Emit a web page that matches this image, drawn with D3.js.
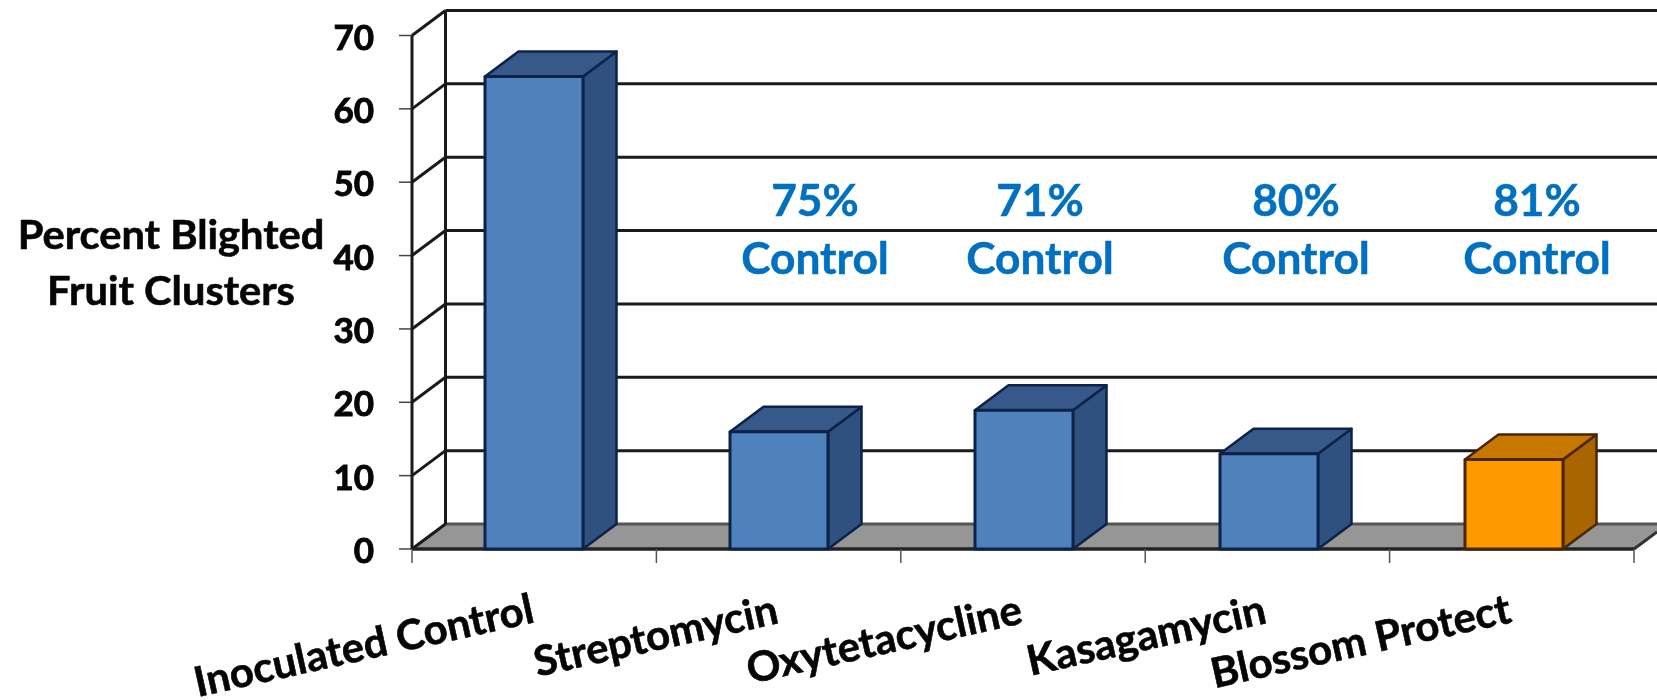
<!DOCTYPE html>
<html><head><meta charset="utf-8">
<script src="https://cdn.jsdelivr.net/npm/d3@7"></script>
<style>html,body{margin:0;background:#fff}svg{display:block;filter:blur(0.5px)}text{font-family:Lato,"Open Sans",sans-serif;font-weight:700}</style>
</head><body><svg id="c" width="1657" height="700"></svg>
<script>
const categories=["Inoculated Control","Streptomycin","Oxytetacycline","Kasagamycin","Blossom Protect"];
const values=[64.4,16,18.9,13,12.2];
const barColors=[["#4f81bd","#36598a","#2f5180"],["#4f81bd","#36598a","#2f5180"],["#4f81bd","#36598a","#2f5180"],["#4f81bd","#36598a","#2f5180"],["#ff9900","#c77800","#a86500"]];
const strokeColors=["#0c2248","#0c2248","#0c2248","#0c2248","#4a2500"];
const yTicks=[0,10,20,30,40,50,60,70];
const controlPct=[null,"75%","71%","80%","81%"];
const yLabel=["Percent Blighted","Fruit Clusters"];

const svg=d3.select("#c");
const x=d3.scaleBand().domain(categories).range([412,1634]);
const barX=d3.scaleBand().domain(categories).range([485,1710]);
const y=d3.scaleLinear().domain([0,70]).range([549,35.5]);
const dx=33.5,dy=-25;
const line=(a,b,c,d,w=3,col="#1a1a1a")=>svg.append("line").attr("x1",a).attr("y1",b).attr("x2",c).attr("y2",d).attr("stroke",col).attr("stroke-width",w);
const poly=(pts,fill,st,w=2.5)=>svg.append("polygon").attr("points",pts.map(p=>p.join(",")).join(" ")).attr("fill",fill).attr("stroke",st||"none").attr("stroke-width",w).attr("stroke-linejoin","round");
const label=(s,tx,ty,o={})=>svg.append("text")
  .attr("transform",`translate(${tx},${ty}) rotate(${o.rot||0}) scale(${o.sx||1},1)`)
  .attr("text-anchor",o.anchor||"middle").attr("font-size",o.size)
  .attr("fill",o.fill||"#050505").attr("stroke",o.fill||"#050505").attr("stroke-width",o.sw==null?0.6:o.sw).text(s);
const x0=x.range()[0],x1=x.range()[1];

// floor
poly([[x0,y(0)],[x1,y(0)],[x1+dx,y(0)+dy],[x0+dx,y(0)+dy]],"#969696");
poly([[x1,y(0)],[1657,y(0)],[1657,y(0)+dy],[x1+dx,y(0)+dy]],"#fff");
poly([[x1,y(0)],[1657,y(0)+dy*(1657-x1)/dx],[1657,y(0)+dy]],"#969696");
line(x0+dx,y(0)+dy,1657,y(0)+dy,3,"#555");
line(x1,y(0),1657,y(0)+dy*(1657-x1)/dx,3,"#333");
// walls and grid
yTicks.forEach(t=>{
  const Y=y(t);
  line(x0,Y,x0+dx,Y+dy);
  if(t>0) line(x0+dx,Y+dy,1657,Y+dy);
  line(x0-13,Y,x0,Y,1.5,"#444");
});
line(x0,y(0),x0,y(70));
line(x0+dx,y(0)+dy,x0+dx,y(70)+dy);
line(x0,y(0),x1,y(0),3.5,"#222");
// x ticks
x.domain().concat([null]).forEach(c=>{
  const X=c===null?x1:x(c);
  line(X,y(0),X,y(0)+14,1.5,"#555");
});
// y tick labels
yTicks.forEach(t=>label(t,374,y(t)+14,{anchor:"end",size:35,sw:0.9}));
// bars
categories.forEach((c,i)=>{
  const bw=98,l=barX(c),r=l+bw,b=y(0),t=y(values[i]);
  const st=strokeColors[i];
  poly([[r,b],[r+dx,b+dy],[r+dx,t+dy],[r,t]],barColors[i][2],st);
  poly([[l,t],[r,t],[r+dx,t+dy],[l+dx,t+dy]],barColors[i][1],st);
  poly([[l,b],[r,b],[r,t],[l,t]],barColors[i][0],st,3);
});
// y label
yLabel.forEach((d,i)=>label(d,171,249+i*56,{size:40,sx:1.04}));
// x labels
const xEnd=[536,780,1024,1268,1513], yEnd=[622,623,623,623,622];
categories.forEach((c,i)=>label(c,xEnd[i],yEnd[i],{anchor:"end",rot:-12.5,size:41.5,sx:1.01}));
// annotations
const annX=[0,815,1040,1296,1537];
controlPct.forEach((p,i)=>{
  if(!p) return;
  label(p,annX[i],216,{size:43,sx:1.03,fill:"#0070c0",sw:0.5});
  label("Control",annX[i],274,{size:43,sx:1.03,fill:"#0070c0",sw:0.5});
});
</script></body></html>
